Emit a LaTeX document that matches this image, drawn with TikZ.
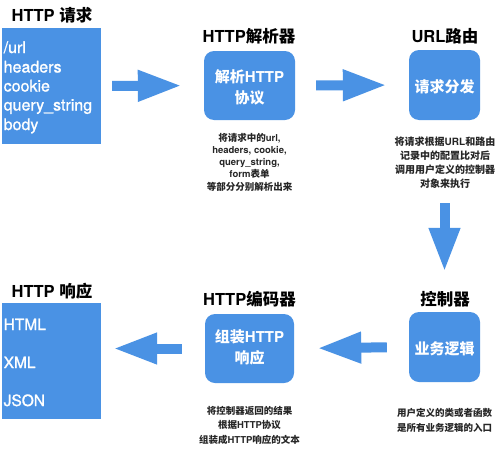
\documentclass[tikz,border=0pt]{standalone}
\usepackage{fontspec}
\setmainfont{TeX Gyre Heros}
\newfontfamily\medfont{TeX Gyre Heros}[FakeBold=1.2]
\newfontfamily\cjk{Noto Sans CJK SC}
\usetikzlibrary{arrows.meta,calc}
\definecolor{blu}{RGB}{74,146,228}
\newcommand\zh[1]{{\cjk #1}}
\begin{document}
\begin{tikzpicture}[x=1pt,y=-1pt,
 sq/.style={fill=blu, draw=none, inner sep=0pt},
 rbox/.style={sq, rounded corners=10pt},
 ttl/.style={inner sep=0pt, anchor=base, font=\fontsize{16.5}{18}\selectfont\bfseries, text=black},
 inb/.style={inner sep=0pt, anchor=base, font=\fontsize{15}{18}\selectfont\bfseries, text=white},
 lst/.style={inner sep=0pt, anchor=base west, font=\medfont\fontsize{16}{19}\selectfont, text=white},
 lstb/.style={lst, font=\medfont\fontsize{15.5}{18}\selectfont},
 dsc/.style={inner sep=0pt, anchor=base, font=\fontsize{9.5}{12}\selectfont\bfseries, text=black!85},
 dscu/.style={dsc, font=\fontsize{10}{12}\selectfont\bfseries},
 fat/.style={draw=blu, line width=10pt, -{Triangle[length=44pt,width=29pt]}},
]
\fill[white] (0,0) rectangle (500,450);
\useasboundingbox (0,0) rectangle (500,450);

% HTTP request
\node[sq, minimum width=99pt, minimum height=116pt] (req) at (51.5,86) {};
\node[ttl] (reqt) at (52,21) {HTTP \zh{请求}};
\node[lst] (req1) at (3.5,53) {/url};
\node[lst] (req2) at (3.5,72.5) {headers};
\node[lst] (req3) at (3.5,91.5) {cookie};
\node[lst] (req4) at (3.5,110.5) {query\_string};
\node[lst] (req5) at (3.5,130) {body};

% HTTP parser
\node[rbox, minimum width=91pt, minimum height=69pt] (par) at (249.5,85.5) {};
\node[ttl] (part) at (249,42) {HTTP\zh{解析器}};
\node[inb] (pari1) at (249.5,82) {\zh{解析}HTTP};
\node[inb] (pari2) at (249.5,103.5) {\zh{协议}};
\node[dsc] (pard1) at (249.5,141) {\zh{将请求中的}url,};
\node[dsc] (pard2) at (249.5,153.25) {headers, cookie,};
\node[dsc] (pard3) at (249.5,165.5) {query\_string,};
\node[dsc] (pard4) at (249.5,177.75) {form\zh{表单}};
\node[dsc] (pard5) at (249.5,190) {\zh{等部分分别解析出来}};

% URL routing
\node[rbox, minimum width=71pt, minimum height=70pt] (url) at (444.5,85) {};
\node[ttl] (urlt) at (445,42) {URL\zh{路由}};
\node[inb] (urli) at (444.5,92) {\zh{请求分发}};
\node[dscu] (urld1) at (445,145) {\zh{将请求根据}URL\zh{和路由}};
\node[dscu] (urld2) at (445,159) {\zh{记录中的配置比对后}};
\node[dscu] (urld3) at (445,173) {\zh{调用用户定义的控制器}};
\node[dscu] (urld4) at (445,187) {\zh{对象来执行}};

% Controller
\node[rbox, minimum width=71pt, minimum height=70pt] (ctrl) at (444.5,347) {};
\node[ttl] (ctrlt) at (445,305) {\zh{控制器}};
\node[inb] (ctrli) at (444.5,354) {\zh{业务逻辑}};
\node[dsc] (ctrld1) at (444.5,416) {\zh{用户定义的类或者函数}};
\node[dsc] (ctrld2) at (444.5,431) {\zh{是所有业务逻辑的入口}};

% HTTP encoder
\node[rbox, minimum width=89pt, minimum height=69pt] (enc) at (249.5,348.5) {};
\node[ttl] (enct) at (249.5,305) {HTTP\zh{编码器}};
\node[inb] (enci1) at (249.5,342) {\zh{组装}HTTP};
\node[inb] (enci2) at (249.5,363.5) {\zh{响应}};
\node[dsc] (encd1) at (249.5,414) {\zh{将控制器返回的结果}};
\node[dsc] (encd2) at (249.5,428.5) {\zh{根据}HTTP\zh{协议}};
\node[dsc] (encd3) at (249.5,443) {\zh{组装成}HTTP\zh{响应的文本}};

% HTTP response
\node[sq, minimum width=99pt, minimum height=116pt] (resp) at (51.5,361) {};
\node[ttl] (respt) at (52,297) {HTTP \zh{响应}};
\node[lstb] (resp1) at (3.5,330) {HTML};
\node[lstb] (resp2) at (3.5,368) {XML};
\node[lstb] (resp3) at (3.5,406) {JSON};

% arrows
\draw[fat, shorten <=11pt, shorten >=22pt] (req.east) -- (par.west);
\draw[fat, shorten <=21pt, shorten >=22pt] (par.east) -- (url.west);
\draw[fat, shorten <=83pt, shorten >=40pt] (url.south) -- (ctrl.north);
\draw[fat, shorten <=22pt, shorten >=23pt] (ctrl.west) -- (enc.east);
\draw[fat, shorten <=23pt, shorten >=12pt] (enc.west) -- (enc.west -| resp.east);
\end{tikzpicture}
\end{document}
